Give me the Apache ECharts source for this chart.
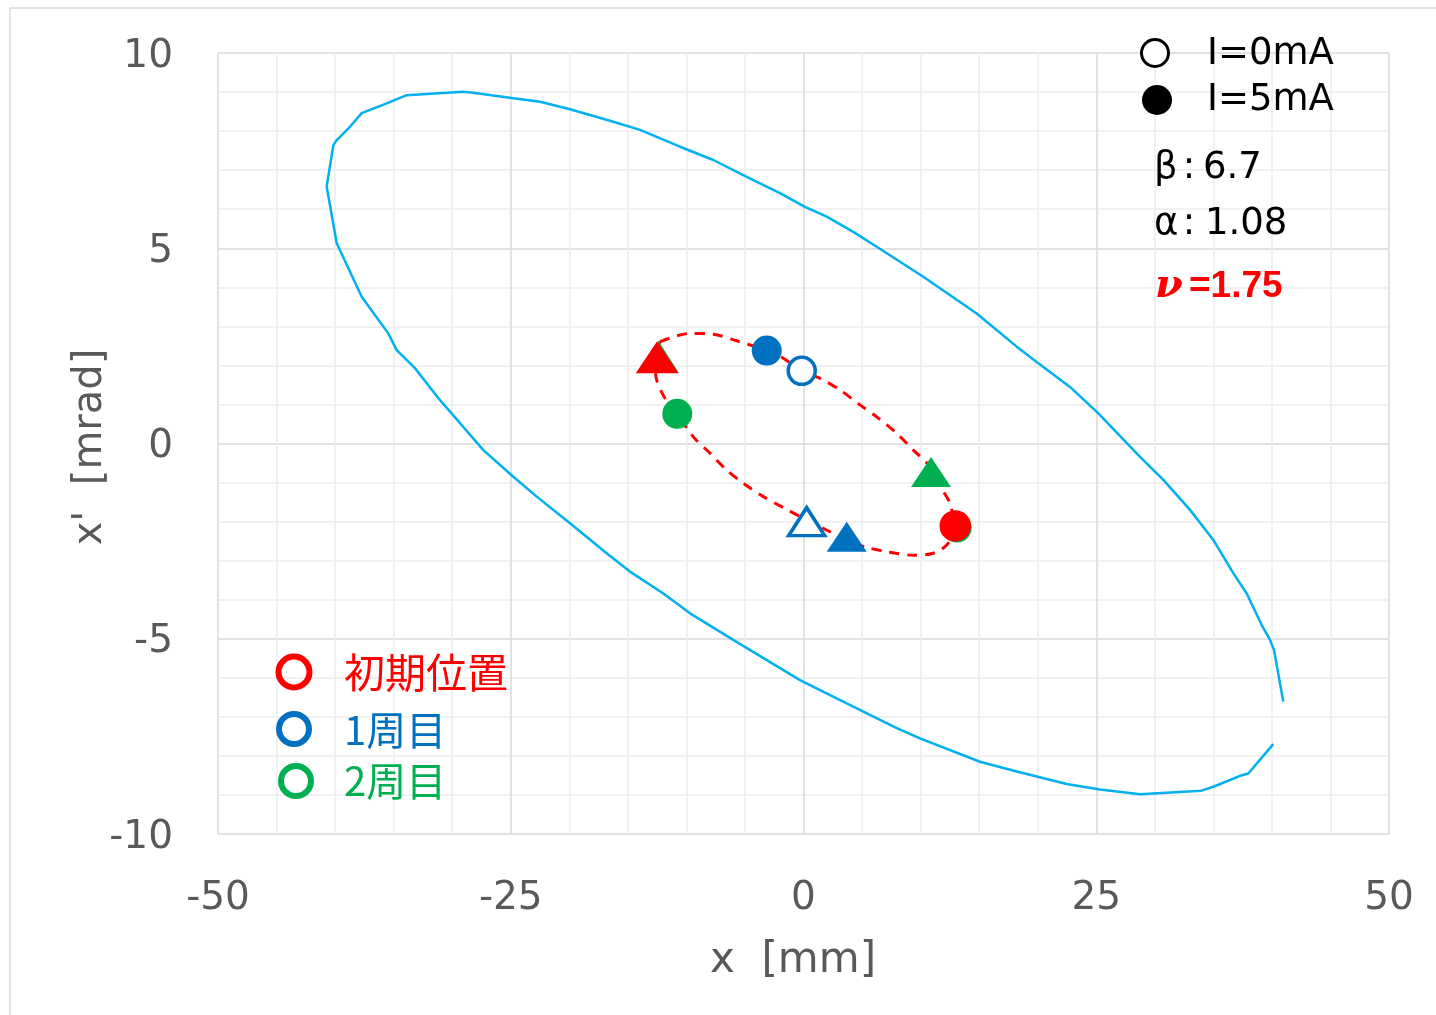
<!DOCTYPE html>
<html>
<head>
<meta charset="utf-8">
<title>Phase space orbit</title>
<script src="https://cdn.jsdelivr.net/npm/echarts@6/dist/echarts.min.js"></script>
<style>
  html, body { margin: 0; padding: 0; background: #ffffff; }
  #chart { width: 1436px; height: 1015px; }
</style>
</head>
<body>
<div id="chart"></div>
<script>
// Acceptance ellipse (x [mm], x' [mrad]), open polyline
const acceptanceX = [40.12, 37.98, 37.28, 35.00, 34.00, 28.74, 25.32, 22.48, 18.21, 15.07,
  9.95, 7.96, 4.25, -0.30, -6.00, -9.69, -11.97, -14.82, -16.81, -19.94,
  -22.78, -24.78, -27.34, -29.33, -31.04, -33.18, -34.74, -35.46, -37.73, -39.86,
  -40.72, -40.15, -39.86, -38.73, -37.73, -35.59, -33.89, -29.05, -28.20, -24.78,
  -22.50, -19.94, -16.24, -13.96, -10.55, -7.70, -4.85, -2.01, 0.13, 1.98,
  4.25, 6.25, 10.23, 14.79, 18.21, 19.91, 22.76, 25.18, 28.74, 30.73,
  33.01, 35.00, 36.70, 37.85, 39.13, 39.84, 40.18, 40.97];
const acceptanceY = [-7.70, -8.45, -8.51, -8.79, -8.89, -8.98, -8.86, -8.72, -8.40, -8.15,
  -7.55, -7.29, -6.74, -6.06, -5.03, -4.35, -3.84, -3.28, -2.81, -2.04,
  -1.36, -0.85, -0.17, 0.52, 1.11, 1.93, 2.39, 2.82, 3.76, 5.13,
  6.58, 7.64, 7.77, 8.11, 8.46, 8.71, 8.92, 9.01, 8.98, 8.84,
  8.75, 8.56, 8.24, 8.03, 7.60, 7.26, 6.83, 6.41, 6.06, 5.81,
  5.42, 5.04, 4.27, 3.33, 2.48, 2.09, 1.45, 0.77, -0.34, -0.93,
  -1.70, -2.47, -3.32, -3.84, -4.65, -5.03, -5.29, -6.61];

// Orbit ellipse of the tracked particles (dashed, closed)
const orbitX = [-12.25, -9.69, -7.70, -5.71, -3.14, -1.86, -0.15, 1.41, 3.12, 4.82,
  6.39, 7.96, 9.38, 10.80, 11.80, 12.51, 12.79, 13.08, 12.23, 11.08,
  9.38, 7.10, 5.40, 3.69, 2.26, 0.27, -1.73, -3.43, -5.14, -6.56,
  -7.98, -9.41, -10.78, -11.83, -12.54, -12.68, -12.25];
const orbitY = [2.61, 2.82, 2.80, 2.63, 2.38, 2.21, 1.86, 1.67, 1.37, 0.99,
  0.65, 0.26, -0.17, -0.59, -1.15, -1.53, -1.87, -2.13, -2.60, -2.81,
  -2.86, -2.77, -2.66, -2.47, -2.26, -1.96, -1.64, -1.36, -1.02, -0.68,
  -0.25, 0.17, 0.76, 1.16, 1.63, 2.09, 2.61];

// Particle positions: [circle particle, triangle particle], each [x, x']
const initialPos = [[12.96, -2.11], [-12.50, 2.20]];
const turn1_0mA = [[-0.15, 1.86], [0.27, -2.00]];
const turn2_0mA = [[13.10, -2.16], [-12.38, 2.20]];
const turn1_5mA = [[-3.14, 2.38], [3.69, -2.39]];
const turn2_5mA = [[-10.78, 0.76], [10.89, -0.73]];

// Lattice parameters shown in the corner
const betaText = '6.7';
const alphaText = '1.08';
const tuneText = '=1.75';

// Legend texts
const currentLabels = ['I=0mA', 'I=5mA'];
const turnLabels = ['初期位置', '1周目', '2周目'];

const RED = '#FF0000', BLUE = '#0070C0', GREEN = '#00B050', CYAN = '#00B0F0';

function zip(xs, ys) { return xs.map((x, i) => [x, ys[i]]); }

function markers(points, color, filled, edge) {
  const bw = edge || (filled ? 0 : 3.5);
  return points.map((p, i) => {
    const isCircle = i === 0;
    let size;
    if (filled) size = isCircle ? 30 : [40, 30];
    else size = isCircle ? 27 : [36, 28];
    return {
      value: p,
      symbol: isCircle ? 'circle' : 'triangle',
      symbolSize: size,
      itemStyle: {
        color: filled ? color : '#ffffff',
        borderColor: color,
        borderWidth: bw,
        opacity: 1
      }
    };
  });
}

const chart = echarts.init(document.getElementById('chart'), null, { renderer: 'canvas' });

const labelFont = { fontFamily: 'DejaVu Sans', fontSize: 39, color: '#595959' };

function txt(x, y, text, font, fill, align) {
  return { type: 'text', x: x, y: y, z: 100,
    style: { text: text, font: font, fill: fill, align: align || 'left', verticalAlign: 'middle' } };
}

chart.setOption({
  animation: false,
  backgroundColor: '#ffffff',
  grid: { left: 218, right: 47, top: 53, bottom: 181, containLabel: false },
  xAxis: {
    type: 'value', min: -50, max: 50, interval: 25,
    axisLine: { show: false }, axisTick: { show: false },
    axisLabel: Object.assign({ margin: 45, lineHeight: 39 }, labelFont),
    splitLine: { show: true, lineStyle: { color: '#D9D9D9', width: 1.5 } },
    minorTick: { show: false, splitNumber: 5 },
    minorSplitLine: { show: true, lineStyle: { color: '#EDEDED', width: 1.5 } }
  },
  yAxis: {
    type: 'value', min: -10, max: 10, interval: 5,
    axisLine: { show: false }, axisTick: { show: false },
    axisLabel: Object.assign({ margin: 45, lineHeight: 45, verticalAlign: 'top', padding: [-19, 0, 0, 0] }, labelFont),
    splitLine: { show: true, lineStyle: { color: '#D9D9D9', width: 1.5 } },
    minorTick: { show: false, splitNumber: 5 },
    minorSplitLine: { show: true, lineStyle: { color: '#EDEDED', width: 1.5 } }
  },
  series: [
    {
      type: 'line', data: zip(acceptanceX, acceptanceY),
      showSymbol: false, smooth: false,
      lineStyle: { color: CYAN, width: 2.5 }, z: 2
    },
    {
      type: 'line', data: zip(orbitX, orbitY),
      showSymbol: false, smooth: 0.3,
      lineStyle: { color: RED, width: 3, type: [10, 8] }, z: 3
    },
    { type: 'scatter', data: markers(turn2_0mA, GREEN, false, 2.5), z: 4 },
    { type: 'scatter', data: markers(initialPos, RED, true, 1.5), z: 4 },
    { type: 'scatter', data: markers(turn1_0mA, BLUE, false), z: 4 },
    { type: 'scatter', data: markers(turn1_5mA, BLUE, true), z: 4 },
    { type: 'scatter', data: markers(turn2_5mA, GREEN, true), z: 4 }
  ],
  graphic: [
    // outer frame
    { type: 'rect', z: 100, shape: { x: 10, y: 8, width: 1440, height: 1020 },
      style: { fill: 'none', stroke: '#D9D9D9', lineWidth: 1.5 }, silent: true },
    // axis titles
    txt(793, 961, 'x  [mm]', '42px "DejaVu Sans"', '#595959', 'center'),
    { type: 'text', x: 91, y: 447, rotation: Math.PI / 2, z: 100,
      style: { text: "x'  [mrad]", font: '40px "DejaVu Sans"', fill: '#595959', align: 'center', verticalAlign: 'middle' } },
    // current legend
    { type: 'circle', z: 100, shape: { cx: 1155, cy: 53, r: 13.5 }, style: { fill: '#ffffff', stroke: '#000000', lineWidth: 3 } },
    { type: 'circle', z: 100, shape: { cx: 1157, cy: 100, r: 15 }, style: { fill: '#000000' } },
    txt(1207, 54, currentLabels[0], '37px "DejaVu Sans"', '#000000'),
    txt(1207, 100, currentLabels[1], '37px "DejaVu Sans"', '#000000'),
    // lattice parameters
    txt(1154, 168, 'β', '37px "DejaVu Sans"', '#000000'),
    txt(1189, 168, ':', '37px "DejaVu Sans"', '#000000', 'center'),
    txt(1203, 168, betaText, '37px "DejaVu Sans"', '#000000'),
    txt(1154, 224, 'α', '37px "DejaVu Sans"', '#000000'),
    txt(1189, 224, ':', '37px "DejaVu Sans"', '#000000', 'center'),
    txt(1205, 224, alphaText, '37px "DejaVu Sans"', '#000000'),
    txt(1155, 287, 'ν', 'italic bold 40px "DejaVu Serif"', RED),
    txt(1189, 287, tuneText, 'bold 37px "Liberation Sans"', RED),
    // turn legend
    { type: 'circle', z: 100, shape: { cx: 294, cy: 672, r: 15.5 }, style: { fill: 'none', stroke: RED, lineWidth: 6 } },
    { type: 'circle', z: 100, shape: { cx: 294, cy: 729, r: 15 }, style: { fill: 'none', stroke: BLUE, lineWidth: 6 } },
    { type: 'circle', z: 100, shape: { cx: 296, cy: 781, r: 15 }, style: { fill: 'none', stroke: GREEN, lineWidth: 6 } },
    txt(344, 672, turnLabels[0], '41px "Noto Sans CJK JP"', RED),
    txt(344, 730, turnLabels[1], '40px "Noto Sans CJK JP"', BLUE),
    txt(344, 781, turnLabels[2], '40px "Noto Sans CJK JP"', GREEN)
  ]
});
</script>
</body>
</html>
